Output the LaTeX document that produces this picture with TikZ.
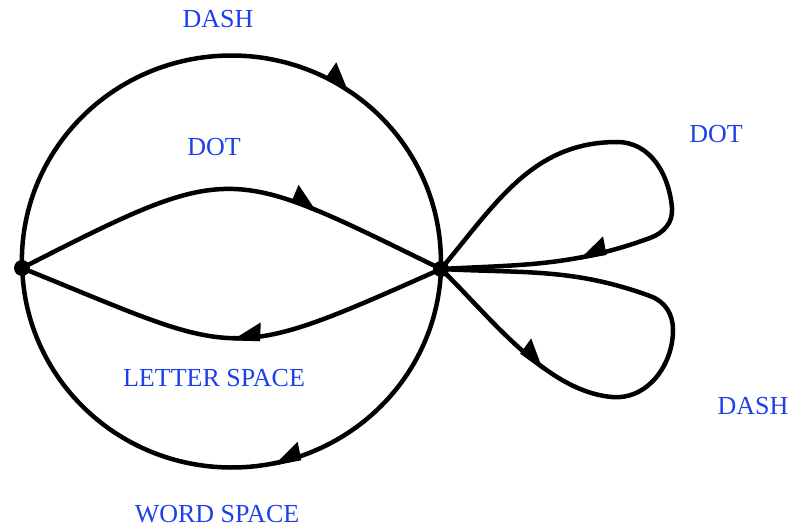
\documentclass[tikz,border=0pt]{standalone}
\usepackage{fontspec}
\setmainfont{Liberation Serif}
\usetikzlibrary{arrows.meta,decorations.markings}
\definecolor{labelblue}{RGB}{30,64,232}
\tikzset{
  state/.style={circle,fill=black,inner sep=0pt,minimum size=16pt},
  edge/.style={line width=4.5pt},
  lbl/.style={text=labelblue,font=\fontsize{26}{30}\selectfont},
  flow/.style={postaction={decorate,decoration={markings,
    mark=at position #1 with {\arrow{Triangle[harpoon,length=25pt,width=32pt]}}}}},
  flowswap/.style={postaction={decorate,decoration={markings,
    mark=at position #1 with {\arrow{Triangle[harpoon,swap,length=25pt,width=32pt]}}}}}
}
\begin{document}
\begin{tikzpicture}[x=1pt,y=1pt]
  \useasboundingbox (0,0) rectangle (790,-529);
  % the two states
  \node[state] (L) at (22,-268) {};
  \node[state] (R) at (441,-269) {};
  % turning points of the two loops
  \coordinate (ut) at (617,-142);
  \coordinate (ur) at (672,-208);
  \coordinate (ub) at (650,-238);
  \coordinate (lb) at (612,-397);
  \coordinate (lr) at (673,-330);
  \coordinate (lt) at (650,-296);
  % circle
  \draw[edge,flow=0.69] (L.center) arc[start angle=181.95,end angle=-1.95,x radius=209.5,y radius=205.5];
  \draw[edge,flowswap=0.435] (R.center) arc[start angle=-1.95,end angle=-178.05,x radius=209.5,y radius=205.5];
  % lens
  \draw[edge,flow=0.70] (L.center) to[out=27,in=154,looseness=1.45] (R.center);
  \draw[edge,flowswap=0.5] (R.center) to[out=204,in=-22,looseness=1.45] (L.center);
  % loops
  \draw[edge,flowswap=0.76] (R.center) to[out=50,in=180] (ut) to[out=0,in=95] (ur)
    to[out=-85,in=20] (ub) to[out=200,in=3] (R.center);
  \draw[edge,flow=0.25] (R.center) to[out=-44,in=175,looseness=0.8] (lb) to[out=-5,in=-90] (lr)
    to[out=90,in=-20] (lt) to[out=160,in=-3] (R.center);
  % labels
  \node[lbl] (dash1) at (218,-19) {DASH};
  \node[lbl] (dot1) at (214,-147) {DOT};
  \node[lbl] (lspace) at (214,-378) {LETTER SPACE};
  \node[lbl] (wspace) at (217,-514) {WORD SPACE};
  \node[lbl] (dot2) at (716,-134) {DOT};
  \node[lbl] (dash2) at (753,-406) {DASH};
\end{tikzpicture}
\end{document}
